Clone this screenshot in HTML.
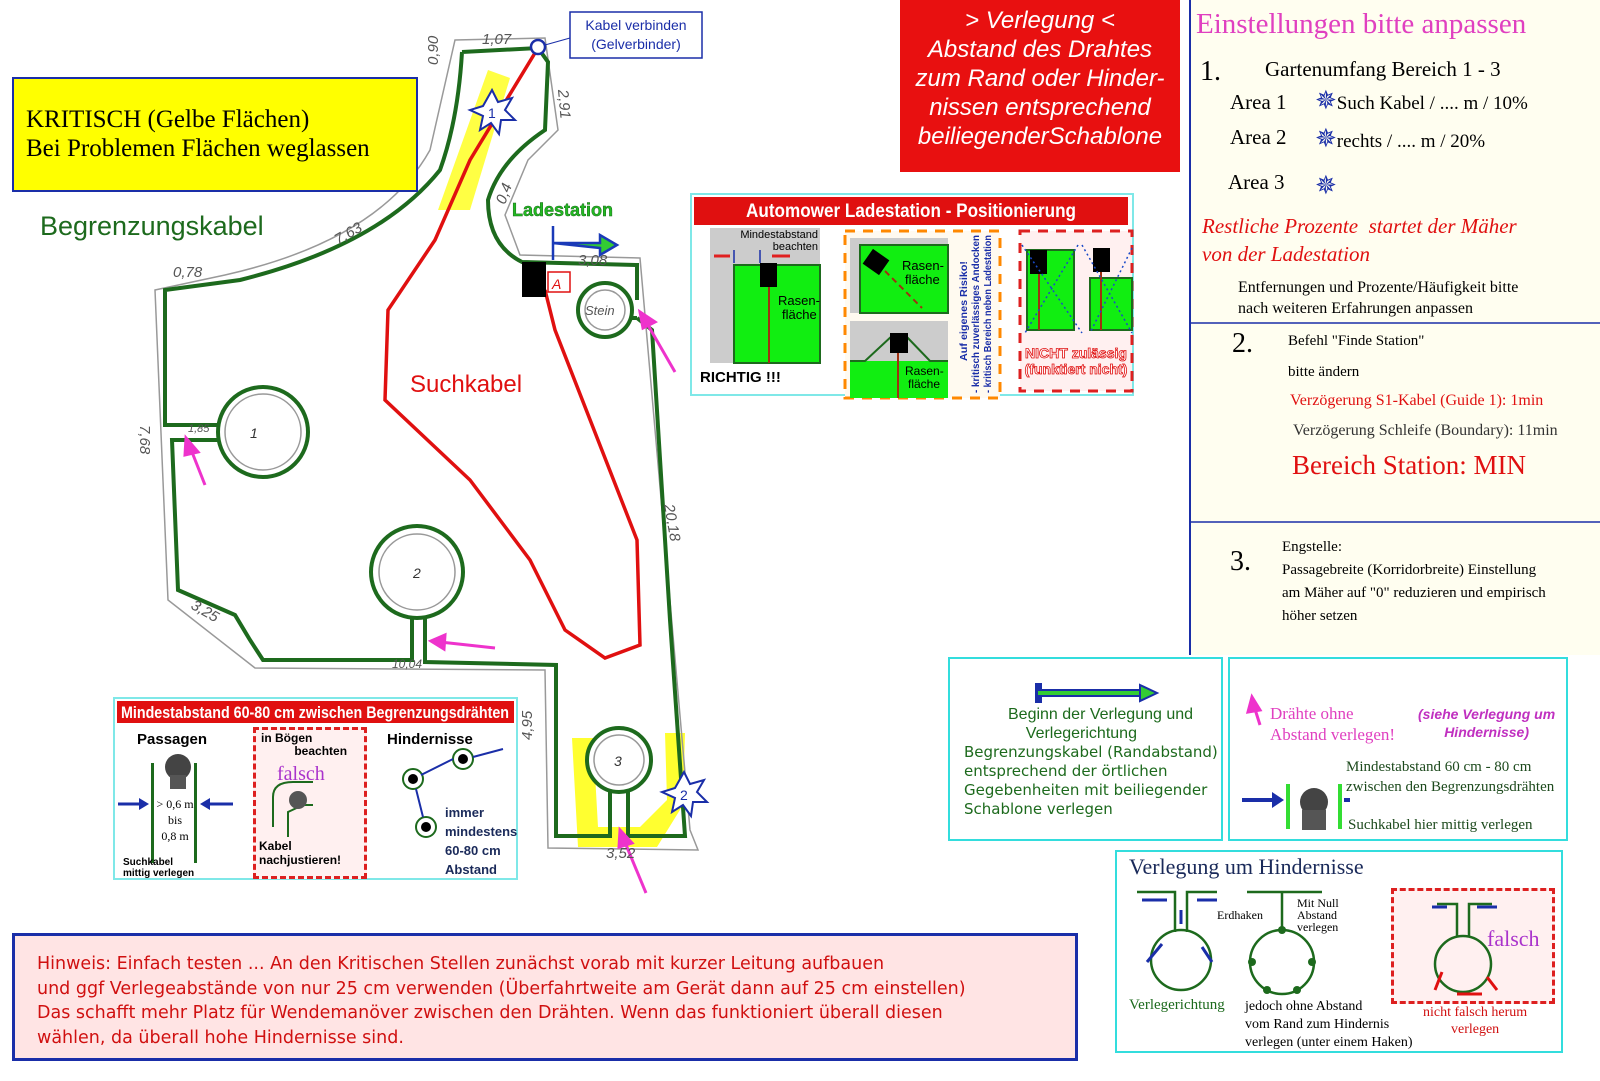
<!DOCTYPE html>
<html><head><meta charset="utf-8"><style>
html,body{margin:0;padding:0;background:#fff;}
body{width:1600px;height:1081px;position:relative;overflow:hidden;font-family:"Liberation Sans",sans-serif;}
.a{position:absolute;}
.serif{font-family:"Liberation Serif",serif;}
</style></head><body>
<svg class="a" style="left:0;top:0" width="1600" height="1081" viewBox="0 0 1600 1081">
<rect x="1190" y="0" width="410" height="655" fill="#fffef0"/>
<line x1="1190" y1="0" x2="1190" y2="655" stroke="#1a2ea8" stroke-width="2"/>
<line x1="1190" y1="323" x2="1600" y2="323" stroke="#1a2ea8" stroke-width="1.5"/>
<line x1="1190" y1="522" x2="1600" y2="522" stroke="#1a2ea8" stroke-width="1.5"/>
<path d="M488 70 L510 78 L470 210 L438 210 Z" fill="#ffff30" opacity="0.9"/>
<path d="M572 738 L593 738 L598 827 L640 827 L667 800 L665 733 L685 733 L683 805 L657 847 L578 847 Z" fill="#ffff30"/>
<path d="M455 40 L545 38 L558 130 L528 160 L505 215 L520 255 L640 258 L690 830 L698 850 L548 848 L545 670 L255 668 L168 600 L155 290 L225 275 Q380 240 430 150 Z" fill="none" stroke="#999" stroke-width="1.5"/>
<path d="M462 52 L538 48 L548 62 L545 130 Q500 160 488 200 Q488 245 522 262 L637 265 L637 300 M637 318 L652 330 L670 620 L685 836 L628 836 L628 790 M610 790 L610 836 L556 836 L556 665 L425 662 L425 615 M412 615 L412 660 L263 660 L250 640 L235 615 L178 590 L172 440 L220 440 M220 425 L165 425 L165 290 L240 280 Q380 245 440 170 Q458 120 462 52" fill="none" stroke="#1d6a1d" stroke-width="4"/>
<path d="M625 318 L637 318" stroke="#1d6a1d" stroke-width="4"/>
<circle cx="263" cy="432" r="45" fill="#fff" stroke="#1d6a1d" stroke-width="4"/>
<circle cx="263" cy="432" r="38" fill="none" stroke="#999" stroke-width="1.5"/>
<circle cx="417" cy="572" r="46" fill="#fff" stroke="#1d6a1d" stroke-width="4"/>
<circle cx="417" cy="572" r="38" fill="none" stroke="#999" stroke-width="1.5"/>
<circle cx="619" cy="760" r="32" fill="#fff" stroke="#1d6a1d" stroke-width="4"/>
<circle cx="619" cy="760" r="25" fill="none" stroke="#999" stroke-width="1.5"/>
<circle cx="605" cy="310" r="27" fill="#fff" stroke="#1d6a1d" stroke-width="4"/>
<circle cx="605" cy="310" r="20" fill="none" stroke="#999" stroke-width="1.5"/>
<text x="250" y="438" font-size="14" fill="#333" font-style="italic">1</text>
<text x="413" y="578" font-size="14" fill="#333" font-style="italic">2</text>
<text x="614" y="766" font-size="14" fill="#333" font-style="italic">3</text>
<text x="585" y="315" font-size="13" fill="#555" font-style="italic">Stein</text>
<path d="M538 48 L470 160 L435 240 L388 310 L385 400 L470 480 L530 560 L565 630 L605 658 L640 645 L637 540 L555 330 L545 290" fill="none" stroke="#e01010" stroke-width="3.5"/>
<rect x="522" y="262" width="24" height="35" fill="#000"/>
<rect x="548" y="272" width="22" height="20" fill="#fff" stroke="#e01010" stroke-width="1.5"/>
<text x="552" y="289" font-size="14" fill="#e01010" font-style="italic">A</text>
<path d="M553 226 L553 260 M553 243 L600 243 L600 235 L617 245 L600 255 L600 248 Z" fill="#33cc33" stroke="#1a3ab8" stroke-width="2.5"/>
<text x="512" y="216" font-size="18" font-weight="bold" fill="#22bb22" stroke="#1d6a1d" stroke-width="0.5">Ladestation</text>
<circle cx="538" cy="47" r="7" fill="#fff" stroke="#1a2ea8" stroke-width="2.5"/>
<line x1="545" y1="45" x2="570" y2="38" stroke="#1a2ea8" stroke-width="1"/>
<rect x="570" y="12" width="132" height="46" fill="#fff" stroke="#1a2ea8" stroke-width="1.5"/>
<text x="636" y="30" font-size="14" fill="#1a2ea8" text-anchor="middle">Kabel verbinden</text>
<text x="636" y="49" font-size="14" fill="#1a2ea8" text-anchor="middle">(Gelverbinder)</text>
<g fill="#fff" stroke="#1a2ea8" stroke-width="2">
<polygon points="492,90 498,102 512,98 505,110 515,120 501,120 499,134 491,123 480,130 483,116 470,110 483,106"/>
<polygon points="684,772 690,784 704,780 697,792 707,802 693,802 691,816 683,805 672,812 675,798 662,792 675,788"/>
</g>
<text x="488" y="118" font-size="14" fill="#1a2ea8">1</text>
<text x="680" y="800" font-size="14" fill="#1a2ea8">2</text>
<g stroke="#ee33cc" stroke-width="3" fill="#ee33cc">
<line x1="205" y1="485" x2="190" y2="447"/><polygon points="186,438 198,452 185,455"/>
<line x1="675" y1="372" x2="645" y2="320"/><polygon points="640,312 655,322 643,328"/>
<line x1="495" y1="648" x2="440" y2="642"/><polygon points="431,641 445,635 444,649"/>
<line x1="646" y1="893" x2="624" y2="840"/><polygon points="620,830 632,843 619,847"/>
<line x1="1260" y1="725" x2="1254" y2="706"/><polygon points="1252,697 1260,710 1248,712"/>
</g>
<g font-size="15" fill="#555" font-style="italic">
<text x="482" y="44">1,07</text>
<text x="173" y="277">0,78</text>
<text x="338" y="245" transform="rotate(-30 338 245)">7,63</text>
<text x="578" y="265">3,08</text>
<text x="188" y="432" font-size="11">1,85</text>
<text x="190" y="608" transform="rotate(30 190 608)">3,25</text>
<text x="392" y="668" font-size="12">10,04</text>
<text x="606" y="858">3,52</text>
<text x="140" y="425" transform="rotate(90 140 425)">7,68</text>
<text x="664" y="505" transform="rotate(80 664 505)">20,18</text>
<text x="558" y="90" transform="rotate(85 558 90)">2,91</text>
<text x="438" y="65" transform="rotate(-90 438 65)">0,90</text>
<text x="532" y="740" transform="rotate(-90 532 740)">4,95</text>
<text x="505" y="205" transform="rotate(-70 505 205)">0,4</text>
</g>
<text x="40" y="235" font-size="27" fill="#1d6a1d">Begrenzungskabel</text>
<text x="410" y="392" font-size="24" fill="#e01010">Suchkabel</text>

<g transform="translate(690,193)">
<rect x="1" y="1" width="442" height="201" fill="#fff" stroke="#7fe8e8" stroke-width="2"/>
<rect x="4" y="4" width="434" height="28" fill="#e01010"/>
<text x="221" y="24" font-size="19" font-weight="bold" fill="#fff" text-anchor="middle" textLength="330" lengthAdjust="spacingAndGlyphs">Automower Ladestation - Positionierung</text>
<rect x="20" y="35" width="110" height="135" fill="#ccc"/>
<rect x="44" y="72" width="86" height="98" fill="#11ee11" stroke="#1d6a1d" stroke-width="2"/>
<line x1="79" y1="93" x2="79" y2="170" stroke="#a03010" stroke-width="2"/>
<rect x="70" y="70" width="17" height="24" fill="#000"/>
<text x="128" y="45" font-size="11" text-anchor="end">Mindestabstand</text>
<text x="128" y="57" font-size="11" text-anchor="end">beachten</text>
<path d="M24 63 L40 63 M100 63 L82 63" stroke="#e02020" stroke-width="3"/>
<path d="M44 57 L44 70 M70 57 L70 70" stroke="#1a2ea8" stroke-width="1.5"/>
<text x="88" y="112" font-size="13">Rasen-</text><text x="92" y="126" font-size="13">fläche</text>
<text x="10" y="189" font-size="15" font-weight="bold">RICHTIG !!!</text>
<rect x="155" y="38" width="155" height="167" fill="#fffaf0" stroke="#ff8800" stroke-width="3" stroke-dasharray="10,8"/>
<rect x="160" y="45" width="98" height="75" fill="#ccc"/>
<rect x="170" y="52" width="88" height="68" fill="#11ee11" stroke="#1d6a1d" stroke-width="2"/>
<rect x="176" y="60" width="20" height="18" fill="#000" transform="rotate(35 186 69)"/>
<line x1="195" y1="78" x2="232" y2="115" stroke="#a03010" stroke-width="2" stroke-dasharray="6,4"/>
<text x="212" y="77" font-size="13">Rasen-</text><text x="215" y="91" font-size="13">fläche</text>
<rect x="160" y="128" width="98" height="77" fill="#ccc"/>
<rect x="160" y="168" width="98" height="37" fill="#11ee11"/>
<path d="M160 168 L175 168 L203 142 M215 142 L240 168 L258 168" fill="none" stroke="#1d6a1d" stroke-width="2"/>
<rect x="200" y="140" width="18" height="20" fill="#000"/>
<line x1="208" y1="160" x2="208" y2="205" stroke="#a03010" stroke-width="2"/>
<text x="215" y="182" font-size="12">Rasen-</text><text x="218" y="195" font-size="12">fläche</text>
<g font-size="10" font-weight="bold" fill="#1a2ea8">
<text transform="translate(277,168) rotate(-90)" textLength="100" lengthAdjust="spacingAndGlyphs">Auf eigenes Risiko!</text>
<text transform="translate(289,200) rotate(-90)" textLength="158" lengthAdjust="spacingAndGlyphs">- kritisch zuverlässiges Andocken</text>
<text transform="translate(301,200) rotate(-90)" textLength="158" lengthAdjust="spacingAndGlyphs">- kritisch Bereich neben Ladestation</text>
</g>
<rect x="330" y="38" width="112" height="160" fill="#fff0f0" stroke="#dd2020" stroke-width="3" stroke-dasharray="10,8"/>
<rect x="337" y="57" width="47" height="80" fill="#11ee11" stroke="#1d6a1d" stroke-width="2"/>
<rect x="340" y="57" width="17" height="24" fill="#000"/>
<line x1="349" y1="81" x2="349" y2="137" stroke="#a03010" stroke-width="2"/>
<rect x="400" y="85" width="42" height="52" fill="#11ee11" stroke="#1d6a1d" stroke-width="2"/>
<rect x="403" y="55" width="17" height="24" fill="#000"/>
<line x1="411" y1="79" x2="411" y2="137" stroke="#a03010" stroke-width="2"/>
<path d="M332 52 L392 140 M388 52 L335 140 M392 52 L442 140 M442 55 L400 140" stroke="#1a4ac8" stroke-width="1.5" stroke-dasharray="2,3"/>
<text x="386" y="165" font-size="14" font-weight="bold" fill="#fff" stroke="#e01010" stroke-width="0.8" text-anchor="middle">NICHT zulässig</text>
<text x="386" y="181" font-size="14" font-weight="bold" fill="#fff" stroke="#e01010" stroke-width="0.8" text-anchor="middle">(funktiert nicht)</text>
</g>
</svg>

<div class="a serif" style="left:12px;top:77px;background:#ffff00;border:2px solid #1a2ea8;font-size:25px;line-height:29px;padding:26px 0 0 12px;box-sizing:border-box;width:406px;height:115px;">KRITISCH (Gelbe Flächen)<br>Bei Problemen Flächen weglassen</div>

<div class="a" style="left:900px;top:0;width:280px;height:172px;background:#e81010;color:#fff;font-style:italic;font-size:24px;line-height:29px;text-align:center;padding-top:6px;box-sizing:border-box;">&gt; Verlegung &lt;<br>Abstand des Drahtes<br>zum Rand oder Hinder-<br>nissen entsprechend<br>beiliegenderSchablone</div>

<div class="a serif" style="left:1196px;top:8px;font-size:29px;color:#e040c0;">Einstellungen bitte anpassen</div>
<div class="a serif" style="left:1200px;top:56px;font-size:28px;">1.</div>
<div class="a serif" style="left:1265px;top:57px;font-size:21px;">Gartenumfang Bereich 1 - 3</div>
<div class="a serif" style="left:1230px;top:90px;font-size:21px;">Area 1</div>
<div class="a serif" style="left:1230px;top:125px;font-size:21px;">Area 2</div>
<div class="a serif" style="left:1228px;top:170px;font-size:21px;">Area 3</div>
<div class="a serif" style="left:1315px;top:91px;font-size:19px;"><span style="color:#1a2ea8;font-size:26px;line-height:20px;">✵</span>Such Kabel / .... m / 10%</div>
<div class="a serif" style="left:1315px;top:129px;font-size:19px;"><span style="color:#1a2ea8;font-size:26px;line-height:20px;">✵</span>rechts / .... m / 20%</div>
<div class="a serif" style="left:1315px;top:171px;font-size:26px;color:#1a2ea8;">✵</div>
<div class="a serif" style="left:1202px;top:212px;font-size:21px;color:#e01010;font-style:italic;line-height:28px;">Restliche Prozente&nbsp; startet der Mäher<br>von der Ladestation</div>
<div class="a serif" style="left:1238px;top:277px;font-size:16px;line-height:21px;">Entfernungen und Prozente/Häufigkeit bitte<br>nach weiteren Erfahrungen anpassen</div>
<div class="a serif" style="left:1232px;top:328px;font-size:28px;">2.</div>
<div class="a serif" style="left:1288px;top:333px;font-size:15px;">Befehl "Finde Station"</div>
<div class="a serif" style="left:1288px;top:364px;font-size:15px;">bitte ändern</div>
<div class="a serif" style="left:1290px;top:392px;font-size:16px;color:#e01010;">Verzögerung S1-Kabel (Guide 1): 1min</div>
<div class="a serif" style="left:1293px;top:422px;font-size:16px;color:#333;">Verzögerung Schleife (Boundary): 11min</div>
<div class="a serif" style="left:1292px;top:450px;font-size:27px;color:#e01010;">Bereich Station: MIN</div>
<div class="a serif" style="left:1230px;top:546px;font-size:28px;">3.</div>
<div class="a serif" style="left:1282px;top:536px;font-size:15px;line-height:23px;">Engstelle:<br>Passagebreite (Korridorbreite) Einstellung<br>am Mäher auf "0" reduzieren und empirisch<br>höher setzen</div>

<div class="a" style="left:113px;top:697px;width:405px;height:183px;border:2px solid #7fe8e8;box-sizing:border-box;background:#fff;">
 <svg style="position:absolute;left:2px;top:2px" width="397" height="22"><rect width="397" height="22" fill="#e01010"/><text x="4" y="17" font-size="17" font-weight="bold" fill="#fff" textLength="388" lengthAdjust="spacingAndGlyphs">Mindestabstand 60-80 cm zwischen Begrenzungsdrähten</text></svg>
 <div style="position:absolute;left:22px;top:32px;font-weight:bold;font-size:15px;">Passagen</div>
 <div style="position:absolute;left:36px;top:64px;width:40px;height:100px;border-left:3px solid #1d6a1d;border-right:3px solid #1d6a1d;"></div>
 <div style="position:absolute;left:30px;top:97px;font-size:12px;text-align:center;width:60px;line-height:16px;white-space:nowrap;" class="serif">&gt; 0,6 m<br>bis<br>0,8 m</div>
 <div style="position:absolute;left:8px;top:158px;font-size:10px;font-weight:bold;line-height:11px;">Suchkabel<br>mittig verlegen</div>
 <div style="position:absolute;left:138px;top:28px;width:114px;height:152px;border:3px dashed #dd2020;background:#fff0f0;box-sizing:border-box;"></div>
 <div style="position:absolute;left:146px;top:33px;font-weight:bold;font-size:12px;line-height:13px;">in Bögen<br>&nbsp;&nbsp;&nbsp;&nbsp;&nbsp;&nbsp;&nbsp;&nbsp;&nbsp;&nbsp;beachten</div>
 <div style="position:absolute;left:162px;top:64px;font-size:20px;color:#aa33cc;" class="serif">falsch</div>
 <div style="position:absolute;left:144px;top:140px;font-weight:bold;font-size:12px;line-height:14px;">Kabel<br>nachjustieren!</div>
 <div style="position:absolute;left:272px;top:32px;font-weight:bold;font-size:15px;">Hindernisse</div>
 <div style="position:absolute;left:330px;top:104px;font-weight:bold;font-size:13px;color:#1a2a5a;line-height:19px;">immer<br>mindestens<br>60-80 cm<br>Abstand</div>
</div>
<svg class="a" style="left:113px;top:697px" width="405" height="183">
<circle cx="65" cy="70" r="13" fill="#444"/><rect x="57" y="78" width="16" height="14" fill="#555"/>
<path d="M5 107 L28 107 M120 107 L95 107" stroke="#1a2ea8" stroke-width="3"/>
<polygon points="36,107 26,101 26,113" fill="#1a2ea8"/><polygon points="87,107 97,101 97,113" fill="#1a2ea8"/>
<path d="M160 130 L160 100 Q160 85 180 85 L200 85 M175 140 L175 115 L190 108 L200 108" fill="none" stroke="#1d6a1d" stroke-width="2"/>
<circle cx="185" cy="103" r="9" fill="#555"/>
<g stroke="#1d6a1d" stroke-width="2" fill="#fff"><circle cx="300" cy="82" r="10"/><circle cx="350" cy="62" r="10"/><circle cx="313" cy="130" r="10"/></g>
<g fill="#000"><circle cx="300" cy="82" r="5"/><circle cx="350" cy="62" r="5"/><circle cx="313" cy="130" r="5"/></g>
<path d="M308 78 L340 62 M303 92 L310 120 M390 52 L360 60" stroke="#1a2ea8" stroke-width="2"/>
</svg>

<div class="a" style="left:12px;top:933px;width:1066px;height:128px;background:#ffe4e4;border:3px solid #1a2ea8;box-sizing:border-box;padding:16px 0 0 22px;font-family:'DejaVu Sans',sans-serif;font-size:17.5px;line-height:24.5px;color:#d01010;">Hinweis: Einfach testen ... An den Kritischen Stellen zunächst vorab mit kurzer Leitung aufbauen<br>und ggf Verlegeabstände von nur 25 cm verwenden (Überfahrtweite am Gerät dann auf 25 cm einstellen)<br>Das schafft mehr Platz für Wendemanöver zwischen den Drähten. Wenn das funktioniert überall diesen<br>wählen, da überall hohe Hindernisse sind.</div>

<div class="a" style="left:948px;top:657px;width:275px;height:184px;border:2px solid #33dddd;box-sizing:border-box;">
 <svg style="position:absolute;left:85px;top:22px" width="130" height="24"><path d="M3 2 L3 22 M3 12 L105 12" stroke="#1a2ea8" stroke-width="8"/><path d="M3 12 L105 12" stroke="#33cc33" stroke-width="4"/><polygon points="105,4 122,12 105,20" fill="#33cc33" stroke="#1a2ea8" stroke-width="2"/></svg>
 <div style="position:absolute;left:58px;top:46px;font-size:16px;color:#1d6a1d;line-height:19px;">Beginn der Verlegung und<br>&nbsp;&nbsp;&nbsp;&nbsp;Verlegerichtung</div>
 <div style="position:absolute;left:14px;top:84px;font-family:'DejaVu Sans',sans-serif;font-size:15px;color:#1d6a1d;line-height:19px;white-space:nowrap;">Begrenzungskabel (Randabstand)<br>entsprechend der örtlichen<br>Gegebenheiten mit beiliegender<br>Schablone verlegen</div>
</div>
<div class="a" style="left:1228px;top:657px;width:340px;height:184px;border:2px solid #33dddd;box-sizing:border-box;">
 <div class="serif" style="position:absolute;left:40px;top:44px;font-size:17px;color:#e040c0;line-height:21px;">Drähte ohne<br>Abstand verlegen!</div>
 <div style="position:absolute;left:188px;top:46px;font-size:14px;font-style:italic;font-weight:bold;color:#c030c0;text-align:center;line-height:18px;">(siehe Verlegung um<br>Hindernisse)</div>
 <div class="serif" style="position:absolute;left:116px;top:98px;font-size:15px;color:#1d4a1d;line-height:20px;white-space:nowrap;">Mindestabstand 60 cm - 80 cm<br>zwischen den Begrenzungsdrähten</div>
 <div class="serif" style="position:absolute;left:118px;top:158px;font-size:15px;color:#1d4a1d;white-space:nowrap;">Suchkabel hier mittig verlegen</div>
 <svg style="position:absolute;left:10px;top:115px" width="110" height="60"><path d="M2 26 L36 26" stroke="#1a2ea8" stroke-width="4"/><polygon points="44,26 32,18 32,34" fill="#1a2ea8"/><line x1="48" y1="10" x2="48" y2="55" stroke="#33dd33" stroke-width="4"/><line x1="100" y1="10" x2="100" y2="55" stroke="#33dd33" stroke-width="4"/><circle cx="74" cy="28" r="14" fill="#444"/><rect x="62" y="36" width="24" height="20" fill="#555"/><path d="M128 26 L104 26" stroke="#1a2ea8" stroke-width="4"/></svg>
</div>
<div class="a" style="left:1115px;top:850px;width:448px;height:203px;border:2px solid #33dddd;box-sizing:border-box;">
 <div class="serif" style="position:absolute;left:12px;top:2px;font-size:22px;color:#1a2a5a;">Verlegung um Hindernisse</div>
 <div class="serif" style="position:absolute;left:12px;top:145px;font-size:15px;color:#1d6a1d;">Verlegerichtung</div>
 <div class="serif" style="position:absolute;left:128px;top:146px;font-size:14px;line-height:18px;white-space:nowrap;">jedoch ohne Abstand<br>vom Rand zum Hindernis<br>verlegen (unter einem Haken)</div>
 <div class="serif" style="position:absolute;left:100px;top:56px;font-size:12px;">Erdhaken</div>
 <div class="serif" style="position:absolute;left:180px;top:45px;font-size:12px;line-height:12px;">Mit Null<br>Abstand<br>verlegen</div>
 <div style="position:absolute;left:274px;top:36px;width:158px;height:110px;border:3px dashed #dd2020;background:#fff0f0;"></div>
 <div class="serif" style="position:absolute;left:370px;top:74px;font-size:22px;color:#aa33cc;">falsch</div>
 <div class="serif" style="position:absolute;left:306px;top:152px;font-size:14px;color:#d01010;text-align:center;line-height:17px;">nicht falsch herum<br>verlegen</div>
 <svg style="position:absolute;left:0;top:30px" width="448" height="120">
  <g fill="none" stroke="#1d6a1d" stroke-width="2.5"><path d="M20 10 L58 10 L58 50 M100 10 L70 10 L70 50"/><circle cx="64" cy="78" r="30"/><path d="M130 10 L205 10 M165 10 L165 48"/><circle cx="165" cy="80" r="32"/><path d="M320 22 L340 22 L340 55 M375 22 L352 22 L352 55"/><circle cx="346" cy="82" r="28"/></g>
  <g fill="#1d6a1d"><circle cx="165" cy="48" r="4"/><circle cx="135" cy="80" r="4"/><circle cx="195" cy="80" r="4"/><circle cx="150" cy="108" r="4"/><circle cx="180" cy="108" r="4"/></g>
  <g stroke="#1a2ea8" stroke-width="3"><path d="M25 18 L50 18 M80 18 L100 18 M64 28 L64 42 M30 80 L45 62 M95 80 L85 65"/><path d="M330 25 L315 25 M360 25 L380 25"/></g>
  <g stroke="#e01010" stroke-width="3"><path d="M325 90 L318 108 M370 95 L380 108 M340 112 L365 112"/></g>
 </svg>
</div>
</body></html>
